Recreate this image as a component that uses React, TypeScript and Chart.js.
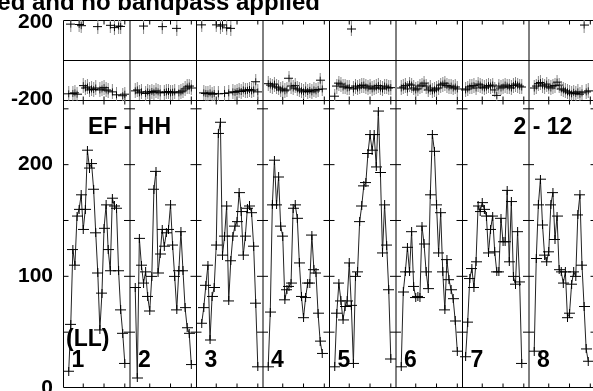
import React, { useEffect, useRef } from 'react';
import { Chart, registerables } from 'chart.js';

Chart.register(...registerables);

// ---- data ----
const CHANNELS_PER_IF = 32;
const IF_LABELS = ['1', '2', '3', '4', '5', '6', '7', '8'];
const FIRST_CHANNEL = [3, 3, 3, 3, 3, 3, 2, 3];

const AMP_IF1 = [15, 57, 124, 110, 154, 160, 173, 142, 160, 213, 197, 201, 178, 139, 103, 52, 85, 143, 164, 124, 105, 170, 163, 161, 105, 70, 49, 22];
const AMP_IF2 = [90, 9, 134, 110, 94, 104, 82, 69, 100, 178, 194, 103, 120, 142, 127, 139, 142, 164, 128, 100, 70, 105, 140, 105, 72, 54, 49, 21];
const AMP_IF3 = [58, 72, 92, 110, 43, 82, 90, 128, 228, 238, 119, 136, 163, 78, 114, 136, 145, 149, 175, 158, 119, 136, 161, 163, 157, 127, 76, 19];
const AMP_IF4 = [19, 68, 164, 204, 164, 189, 145, 136, 79, 88, 91, 94, 161, 164, 152, 112, 82, 63, 81, 94, 94, 137, 106, 103, 67, 42, 31];
const AMP_IF5 = [19, 67, 94, 78, 61, 73, 78, 112, 74, 22, 100, 104, 149, 163, 181, 184, 210, 227, 213, 227, 198, 248, 193, 121, 164, 128, 88, 26];
const AMP_IF6 = [19, 86, 104, 126, 104, 140, 91, 81, 82, 81, 145, 129, 104, 89, 173, 227, 212, 164, 121, 157, 104, 70, 115, 97, 88, 80, 60, 33];
const AMP_IF7 = [28, 59, 98, 107, 90, 113, 163, 158, 166, 160, 154, 121, 142, 154, 122, 104, 104, 152, 131, 131, 177, 113, 167, 100, 93, 140, 95, 22];
const AMP_IF8 = [33, 116, 164, 187, 146, 119, 113, 122, 164, 175, 133, 154, 106, 104, 94, 104, 63, 67, 93, 104, 100, 155, 173, 110, 73, 35, 24];

const PHASE_IF1 = [-170, 188, -168, -165, -172, 186, 180, -128, -140, -135, -150, -145, -148, -140, 175, -150, -145, -138, -150, -155, 182, -160, 170, -175, 178, 176, -180, -172];
const PHASE_IF2 = [-155, -150, -165, -160, 178, -168, -160, -165, -158, -162, -155, -160, -165, 175, -163, -160, -158, -165, -162, -160, 166, -165, -160, -155, -145, -135, -130, -140];
const PHASE_IF3 = [184, -165, -168, -170, -165, -172, -168, 184, -170, 178, 184, -168, 169, -165, 166, -160, -162, -158, -155, -158, -150, -155, -152, -148, -155, -150, -108, -160];
const PHASE_IF4 = [-118, -125, -130, -120, -135, -140, -150, -145, -155, -150, -90, -130, -140, -128, -145, -150, -155, -160, -150, -158, -152, -160, -150, -155, -148, -100, -145];
const PHASE_IF5 = [-182, -130, -115, -120, -135, -130, -140, -138, 163, -145, -130, -140, -135, -128, -125, -135, -140, -130, -145, -140, -135, -128, -140, -145, -130, -135, -140, -138];
const PHASE_IF6 = [-140, -135, -128, -145, -120, -125, -140, -150, -145, -130, -125, -115, -130, -150, -140, -155, -150, -145, -140, -125, -120, -115, -128, -135, -130, -140, -135, -145];
const PHASE_IF7 = [-150, -145, -135, -130, -128, -140, -120, -125, -135, -140, -135, -128, -130, -125, -150, -178, -130, -140, -135, -125, -130, -135, -140, -128, -120, -125, -130, -135];
const PHASE_IF8 = [-140, -130, -118, -112, -125, -130, -120, -135, -140, -130, -128, -110, -125, -145, -150, -155, -160, -165, -170, -162, -168, -160, -172, -165, 183, -160, -155];

const AMP_TICKS = [0, 100, 200];
const PHASE_TICKS = [-200, 200];
const AMP_MINOR = [50, 100, 150, 200, 250];
const CHANNEL_TICKS = [10, 20, 30];

const TITLE = 'ed and no bandpass applied';
const BASELINE_LABEL = 'EF - HH';
const TIME_LABEL = '2 - 12';
const POL_LABEL = '(LL)';

const AMPS = [AMP_IF1, AMP_IF2, AMP_IF3, AMP_IF4, AMP_IF5, AMP_IF6, AMP_IF7, AMP_IF8];
const PHASES = [PHASE_IF1, PHASE_IF2, PHASE_IF3, PHASE_IF4, PHASE_IF5, PHASE_IF6, PHASE_IF7, PHASE_IF8];

const FONT = '"Liberation Sans", Arial, Helvetica, sans-serif';

function makeCross(w: number, h: number, blackH: number, gray: boolean) {
  const c = document.createElement('canvas');
  c.width = w;
  c.height = h;
  const g = c.getContext('2d')!;
  g.lineWidth = 1;
  const cx = Math.floor(w / 2) + 0.5;
  const cy = Math.floor(h / 2) + 0.5;
  const seg = (x1: number, y1: number, x2: number, y2: number) => {
    g.beginPath();
    g.moveTo(x1, y1);
    g.lineTo(x2, y2);
    g.stroke();
  };
  if (gray) {
    g.strokeStyle = '#8a8a8a';
    seg(cx, 0, cx, h);
  }
  g.strokeStyle = '#000';
  seg(0, cy, w, cy);
  seg(cx, cy - blackH / 2, cx, cy + blackH / 2);
  return c;
}

const chanX = (s: number, c: number) => s * CHANNELS_PER_IF + c - 0.5;

const fitAxis = (s: any) => {
  s.width = 63.5;
  s.paddingTop = 0;
  s.paddingBottom = 0;
  s.paddingLeft = 0;
  s.paddingRight = 0;
};

const decorPlugin = {
  id: 'decor',
  beforeDatasetsDraw(chart: any) {
    const { ctx, chartArea: ca, scales } = chart;
    const xs = scales.x;
    const amp = scales.amp;
    const ph = scales.phase;
    const L = ca.left;
    const R = ca.right;
    const T = ph.top + 0.5;
    const M = Math.round(ph.bottom) - 0.5;
    const B = amp.bottom - 0.5;
    ctx.save();
    ctx.strokeStyle = '#000';
    ctx.lineWidth = 1;
    const seg = (x1: number, y1: number, x2: number, y2: number) => {
      ctx.beginPath();
      ctx.moveTo(x1, y1);
      ctx.lineTo(x2, y2);
      ctx.stroke();
    };
    // frame
    seg(L, T, R, T);
    seg(L, M, R, M);
    seg(L, B, R, B);
    seg(L, T, L, B);
    seg(R, T, R, B);
    // phase zero line
    const y0 = Math.floor(ph.getPixelForValue(0)) + 0.5;
    seg(L, y0, R, y0);
    // IF separators
    for (let k = 1; k < IF_LABELS.length; k++) {
      const xk = xs.getPixelForValue(k * CHANNELS_PER_IF);
      seg(xk, T, xk, B);
      for (const v of AMP_MINOR) {
        const y = amp.getPixelForValue(v);
        seg(xk - 6, y, xk + 5, y);
      }
    }
    for (const v of AMP_MINOR) {
      const y = amp.getPixelForValue(v);
      seg(L, y, L + 5, y);
      seg(R - 5, y, R, y);
    }
    // channel ticks
    for (let s = 0; s < IF_LABELS.length; s++) {
      for (const t of CHANNEL_TICKS) {
        const xv = xs.getPixelForValue(chanX(s, t));
        seg(xv, B, xv, B - 4);
        seg(xv, M, xv, M + 4);
        seg(xv, M, xv, M - 4);
        seg(xv, T, xv, T + 4);
      }
    }
    ctx.restore();
  },
  afterDatasetsDraw(chart: any) {
    const { ctx, scales } = chart;
    const xs = scales.x;
    const amp = scales.amp;
    ctx.save();
    ctx.fillStyle = '#000';
    ctx.textBaseline = 'alphabetic';
    ctx.textAlign = 'left';
    ctx.font = `bold 23px ${FONT}`;
    ctx.fillText(BASELINE_LABEL, xs.getPixelForValue(0) + 24.5, amp.top + 33);
    ctx.fillText(TIME_LABEL, xs.getPixelForValue(7 * CHANNELS_PER_IF) - 15.5, amp.top + 33);
    ctx.fillText(POL_LABEL, xs.getPixelForValue(0) + 2.5, amp.bottom - 42);
    IF_LABELS.forEach((lab, s) => {
      ctx.fillText(lab, xs.getPixelForValue(s * CHANNELS_PER_IF) + 8, amp.bottom - 21);
    });
    ctx.restore();
  },
  afterDraw(chart: any) {
    const { ctx } = chart;
    ctx.save();
    ctx.fillStyle = '#000';
    ctx.font = `bold 24px ${FONT}`;
    ctx.textAlign = 'right';
    ctx.textBaseline = 'alphabetic';
    ctx.fillText(TITLE, 320, 10);
    ctx.restore();
  },
};

export default function App() {
  const ref = useRef<HTMLCanvasElement>(null);

  useEffect(() => {
    const canvas = ref.current;
    if (!canvas) return;
    const ampCross = makeCross(11, 9, 9, false);
    const phaseCross = makeCross(9, 15, 7, true);

    const ampSets = AMPS.map((arr, s) => ({
      data: arr.map((v, i) => ({ x: chanX(s, FIRST_CHANNEL[s] + i), y: v })),
      xAxisID: 'x',
      yAxisID: 'amp',
      showLine: true,
      borderColor: '#222',
      borderWidth: 1,
      pointStyle: ampCross,
      pointRadius: 5,
    }));
    const phaseSets = PHASES.map((arr, s) => ({
      data: arr.map((v, i) => ({ x: chanX(s, FIRST_CHANNEL[s] + i), y: v })),
      xAxisID: 'x',
      yAxisID: 'phase',
      showLine: false,
      pointStyle: phaseCross,
      pointRadius: 5,
    }));

    const tickFont = { family: FONT, weight: 'bold' as const, size: 21 };

    const chart = new Chart(canvas, {
      type: 'scatter',
      data: { datasets: [...ampSets, ...phaseSets] as any },
      options: {
        responsive: false,
        animation: false,
        devicePixelRatio: 1,
        events: [],
        layout: { autoPadding: false, padding: { top: 20, bottom: 3, left: 0, right: 4.5 } },
        plugins: {
          legend: { display: false },
          tooltip: { enabled: false },
          title: { display: false },
        },
        scales: {
          x: { type: 'linear', min: 0, max: IF_LABELS.length * CHANNELS_PER_IF, display: false },
          amp: {
            type: 'linear',
            position: 'left',
            stack: 'panels',
            stackWeight: 287,
            min: 0,
            max: 257,
            afterFit: fitAxis,
            afterBuildTicks: (s: any) => { s.ticks = AMP_TICKS.map((v) => ({ value: v })); },
            ticks: { font: tickFont, color: '#000', padding: 10.5, callback: (v: any) => String(v) },
            grid: { display: false, drawTicks: false },
            border: { display: false },
          },
          phase: {
            type: 'linear',
            position: 'left',
            stack: 'panels',
            stackWeight: 81,
            min: -207,
            max: 209,
            afterFit: fitAxis,
            afterBuildTicks: (s: any) => { s.ticks = PHASE_TICKS.map((v) => ({ value: v })); },
            ticks: { font: tickFont, color: '#000', padding: 10.5, callback: (v: any) => String(v) },
            grid: { display: false, drawTicks: false },
            border: { display: false },
          },
        } as any,
      },
      plugins: [decorPlugin],
    });
    return () => chart.destroy();
  }, []);

  return (
    <div style={{ position: 'fixed', left: 0, top: 0, width: 593, height: 391, overflow: 'hidden', background: '#fff' }}>
      <canvas ref={ref} width={600} height={391} style={{ display: 'block', width: 600, height: 391 }} />
    </div>
  );
}
